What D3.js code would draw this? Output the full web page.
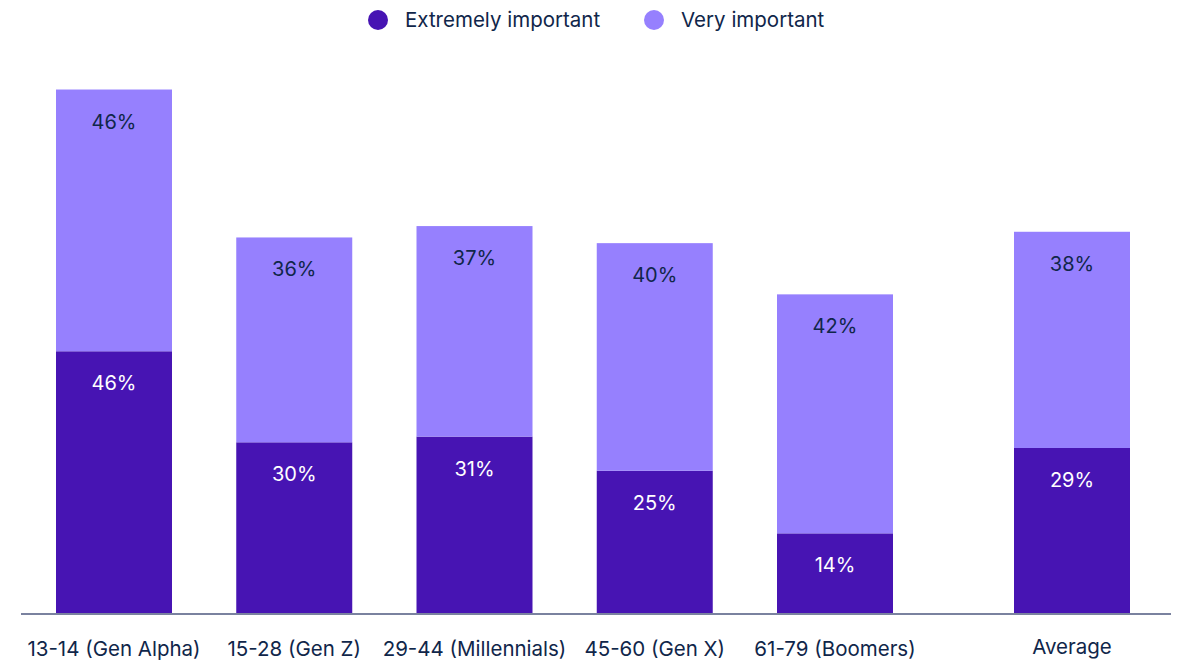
<!DOCTYPE html>
<html>
<head>
<meta charset="utf-8">
<script src="https://cdn.jsdelivr.net/npm/d3@7"></script>
<style>
  html, body { margin: 0; padding: 0; background: #ffffff; }
  svg { display: block; font-family: Inter, "Noto Sans", sans-serif; }
</style>
</head>
<body>
<svg id="chart" width="1180" height="661"></svg>
<script>
// Share of respondents rating the topic as important, by generation
const groups = ["13-14 (Gen Alpha)", "15-28 (Gen Z)", "29-44 (Millennials)", "45-60 (Gen X)", "61-79 (Boomers)"];
const averageLabel = "Average";
const extremelyImportant = [46, 30, 31, 25, 14];
const veryImportant = [46, 36, 37, 40, 42];
const averageExtremely = 29;
const averageVery = 38;
const seriesNames = ["Extremely important", "Very important"];

const colors = { extremely: "#4714b3", very: "#9680fe" };
const textColor = "#10264a";

const svg = d3.select("#chart");
const baseline = 613;

// Generation bars share one band scale; the average sits a little apart
const x = d3.scaleBand()
  .domain(groups)
  .range([56, 893])
  .paddingInner(64.25 / 180.25)
  .paddingOuter(0);
const averageGap = 56.75;

const y = d3.scaleLinear().domain([0, 100]).range([baseline, baseline - 569]);

const rows = groups.map((g, i) => ({
  label: g,
  x0: x(g),
  extremely: extremelyImportant[i],
  very: veryImportant[i]
}));
rows.push({
  label: averageLabel,
  x0: x(groups[groups.length - 1]) + x.step() + averageGap,
  extremely: averageExtremely,
  very: averageVery
});

const bw = x.bandwidth();

const bar = svg.append("g").selectAll("g").data(rows).join("g");

// lower segment: extremely important
bar.append("rect")
  .attr("x", d => d.x0)
  .attr("width", bw)
  .attr("y", d => y(d.extremely))
  .attr("height", d => y(0) - y(d.extremely))
  .attr("fill", colors.extremely);

// upper segment: very important, stacked on top
bar.append("rect")
  .attr("x", d => d.x0)
  .attr("width", bw)
  .attr("y", d => y(d.extremely + d.very))
  .attr("height", d => y(d.extremely) - y(d.extremely + d.very))
  .attr("fill", colors.very);

// value labels near the top of each segment
bar.append("text")
  .attr("x", d => d.x0 + bw / 2)
  .attr("y", d => y(d.extremely) + 39)
  .attr("text-anchor", "middle")
  .attr("font-size", 20)
  .attr("fill", "#ffffff")
  .text(d => d.extremely + "%");

bar.append("text")
  .attr("x", d => d.x0 + bw / 2)
  .attr("y", d => y(d.extremely + d.very) + 39)
  .attr("text-anchor", "middle")
  .attr("font-size", 20)
  .attr("fill", textColor)
  .text(d => d.very + "%");

// baseline axis
svg.append("line")
  .attr("x1", 21).attr("x2", 1171)
  .attr("y1", baseline + 1).attr("y2", baseline + 1)
  .attr("stroke", "#7a829f")
  .attr("stroke-width", 2);

// category labels
svg.append("g").selectAll("text").data(rows).join("text")
  .attr("x", d => d.x0 + bw / 2)
  .attr("y", d => d.label === averageLabel ? 654 : 656)
  .attr("text-anchor", "middle")
  .attr("font-size", 20.5)
  .attr("fill", textColor)
  .text(d => d.label);

// legend
const legendItems = [
  { name: seriesNames[0], color: colors.extremely, cx: 378 },
  { name: seriesNames[1], color: colors.very, cx: 654 }
];
const legend = svg.append("g").selectAll("g").data(legendItems).join("g");
legend.append("circle")
  .attr("cx", d => d.cx).attr("cy", 20).attr("r", 10)
  .attr("fill", d => d.color);
legend.append("text")
  .attr("x", d => d.cx + 27).attr("y", 27)
  .attr("font-size", 20.5)
  .attr("fill", textColor)
  .text(d => d.name);
</script>
</body>
</html>
